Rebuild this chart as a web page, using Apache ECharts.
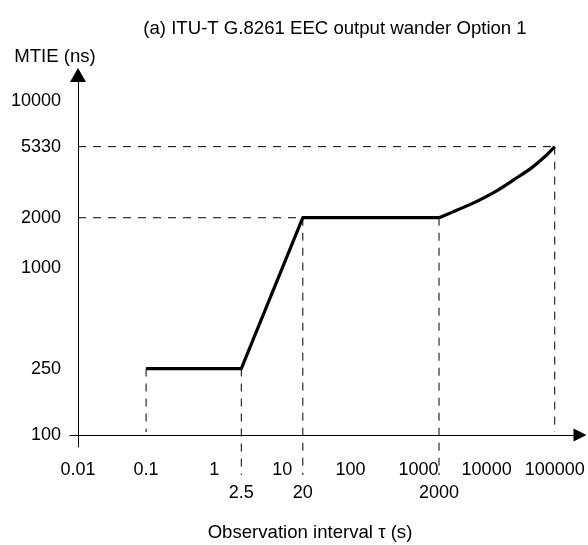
<!DOCTYPE html>
<html>
<head>
<meta charset="utf-8">
<script src="https://cdn.jsdelivr.net/npm/echarts@6/dist/echarts.min.js"></script>
<style>
html,body{margin:0;padding:0;background:#fff;}
#c{width:588px;height:545px;}
</style>
</head>
<body>
<div id="c"></div>
<script>
// ---- texts ----
const chartTitle = '(a) ITU-T G.8261 EEC output wander Option 1';
const yAxisTitle = 'MTIE (ns)';
const xAxisTitle = 'Observation interval \u03c4 (s)';

// ---- tick labels ----
const xTickLabels = [0.01, 0.1, 1, 10, 100, 1000, 10000, 100000];
const xCornerLabels = [2.5, 20, 2000];
const yTickLabels = [100, 250, 1000, 2000, 5330, 10000];

// ---- mask: straight segments (tau in s, MTIE in ns) ----
const maskTau  = [0.1, 2.5, 20, 2000];
const maskMtie = [250, 250, 2000, 2000];

// ---- mask: curved segment ----
const curveTau  = [2000, 3140, 5350, 9090, 15500, 26300, 44700, 76000, 100000];
const curveMtie = [2000, 2160, 2370, 2630, 2970, 3420, 3950, 4750, 5330];

// ---- guide lines (dashed) ----
const hGuidePoints = [[20, 2000], [100000, 5330]];               // horizontal, from y axis to point
const vGuidePointsLong = [[2.5, 250], [20, 2000], [2000, 2000]]; // vertical, past the axis
const vGuidePointsShort = [[0.1, 250], [100000, 5330]];          // vertical, to the axis

const FONT = "'Liberation Sans', Arial, Helvetica, sans-serif";
const chart = echarts.init(document.getElementById('c'), null, {renderer: 'canvas'});

const X_MIN = 0.00763, X_MAX = 235000;
const Y_MIN = 84.75, Y_MAX = 14310;

const labelStyle = {color: '#000', fontSize: 18, fontFamily: FONT};

const option = {
  backgroundColor: '#fff',
  animation: false,
  grid: {left: 70, right: 8, top: 75, bottom: 98, containLabel: false, outerBoundsMode: 'none'},
  xAxis: [
    {
      type: 'log', min: X_MIN, max: X_MAX, position: 'bottom', offset: -12,
      axisLine: {show: true, lineStyle: {color: '#000', width: 1}, symbol: ['none', 'triangle'], symbolSize: [13, 13]},
      axisTick: {show: false}, splitLine: {show: false}, minorTick: {show: false},
      axisLabel: Object.assign({customValues: xTickLabels, margin: 26, formatter: v => String(v), hideOverlap: false}, labelStyle)
    },
    {
      type: 'log', min: X_MIN, max: X_MAX, position: 'bottom', offset: -12,
      axisLine: {show: false}, axisTick: {show: false}, splitLine: {show: false},
      axisLabel: Object.assign({customValues: xCornerLabels, margin: 49, formatter: v => String(v), hideOverlap: false}, labelStyle)
    }
  ],
  yAxis: {
    type: 'log', min: Y_MIN, max: Y_MAX, position: 'left', offset: -8,
    axisLine: {show: true, lineStyle: {color: '#000', width: 1}, symbol: ['none', 'triangle'], symbolSize: [16, 14]},
    axisTick: {show: false}, splitLine: {show: false}, minorTick: {show: false},
    axisLabel: Object.assign({customValues: yTickLabels, margin: 17, formatter: v => String(v), hideOverlap: false}, labelStyle)
  },
  series: [
    {
      type: 'line', xAxisIndex: 0, yAxisIndex: 0, symbol: 'none', z: 5,
      lineStyle: {color: '#000', width: 3.2, join: 'round'},
      data: maskTau.map((t, i) => [t, maskMtie[i]])
    },
    {
      type: 'line', xAxisIndex: 0, yAxisIndex: 0, symbol: 'none', z: 5, smooth: 0.25,
      lineStyle: {color: '#000', width: 3.2},
      data: curveTau.map((t, i) => [t, curveMtie[i]])
    }
  ]
};
chart.setOption(option);

// guide lines computed through the chart's own scales
const toPx = p => chart.convertToPixel({xAxisIndex: 0, yAxisIndex: 0}, p);
const origin = toPx([xTickLabels[0], yTickLabels[0]]);
const axisX = origin[0], axisY = origin[1];
const dash = {stroke: '#000', lineWidth: 1, lineDash: [8, 7]};
const els = [];
hGuidePoints.forEach(p => {
  const q = toPx(p);
  els.push({type: 'line', z: 1, shape: {x1: axisX, y1: q[1], x2: q[0], y2: q[1]}, style: dash});
});
vGuidePointsLong.forEach(p => {
  const q = toPx(p);
  els.push({type: 'line', z: 1, shape: {x1: q[0], y1: q[1], x2: q[0], y2: axisY + 40}, style: dash});
});
vGuidePointsShort.forEach(p => {
  const q = toPx(p);
  els.push({type: 'line', z: 1, shape: {x1: q[0], y1: q[1], x2: q[0], y2: axisY - 3}, style: dash});
});
const titleFont = '18.6px ' + FONT;
[[chartTitle, 335, 29], [yAxisTitle, 55, 57], [xAxisTitle, 310, 533]].forEach(t => {
  els.push({type: 'text', z: 10, x: t[1], y: t[2], style: {text: t[0], fill: '#000', font: titleFont, align: 'center', verticalAlign: 'middle'}});
});
chart.setOption({graphic: {elements: els}});
</script>
</body>
</html>
